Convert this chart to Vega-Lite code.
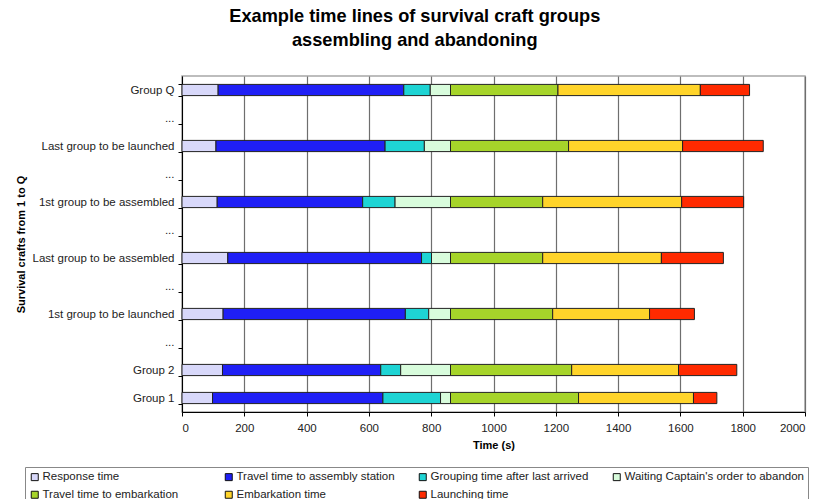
{
  "$schema": "https://vega.github.io/schema/vega-lite/v6.json",
  "autosize": {"type": "none"},
  "width": 623,
  "height": 336,
  "padding": {"left": 182, "top": 76, "right": 16, "bottom": 87},
  "background": "white",
  "title": {
    "text": ["Example time lines of survival craft groups", "assembling and abandoning"],
    "font": "Liberation Sans",
    "fontSize": 18.2,
    "fontWeight": "bold",
    "color": "black",
    "lineHeight": 24,
    "anchor": "middle",
    "frame": "bounds",
    "offset": 20,
    "dx": 3
  },
  "data": {
    "values": [
      {"g": "Group Q", "p": "Response time", "s": 0, "e": 116},
      {"g": "Group Q", "p": "Travel time to assembly station", "s": 116, "e": 712},
      {"g": "Group Q", "p": "Grouping time after last arrived", "s": 712, "e": 797},
      {"g": "Group Q", "p": "Waiting Captain's order to abandon", "s": 797, "e": 862},
      {"g": "Group Q", "p": "Travel time to embarkation", "s": 862, "e": 1207},
      {"g": "Group Q", "p": "Embarkation time", "s": 1207, "e": 1664},
      {"g": "Group Q", "p": "Launching time", "s": 1664, "e": 1822},
      {"g": "Last group to be launched", "p": "Response time", "s": 0, "e": 109},
      {"g": "Last group to be launched", "p": "Travel time to assembly station", "s": 109, "e": 652},
      {"g": "Last group to be launched", "p": "Grouping time after last arrived", "s": 652, "e": 778},
      {"g": "Last group to be launched", "p": "Waiting Captain's order to abandon", "s": 778, "e": 862},
      {"g": "Last group to be launched", "p": "Travel time to embarkation", "s": 862, "e": 1241},
      {"g": "Last group to be launched", "p": "Embarkation time", "s": 1241, "e": 1607},
      {"g": "Last group to be launched", "p": "Launching time", "s": 1607, "e": 1866},
      {"g": "1st group to be assembled", "p": "Response time", "s": 0, "e": 113},
      {"g": "1st group to be assembled", "p": "Travel time to assembly station", "s": 113, "e": 580},
      {"g": "1st group to be assembled", "p": "Grouping time after last arrived", "s": 580, "e": 684},
      {"g": "1st group to be assembled", "p": "Waiting Captain's order to abandon", "s": 684, "e": 862},
      {"g": "1st group to be assembled", "p": "Travel time to embarkation", "s": 862, "e": 1158},
      {"g": "1st group to be assembled", "p": "Embarkation time", "s": 1158, "e": 1604},
      {"g": "1st group to be assembled", "p": "Launching time", "s": 1604, "e": 1803},
      {"g": "Last group to be assembled", "p": "Response time", "s": 0, "e": 147},
      {"g": "Last group to be assembled", "p": "Travel time to assembly station", "s": 147, "e": 769},
      {"g": "Last group to be assembled", "p": "Grouping time after last arrived", "s": 769, "e": 801},
      {"g": "Last group to be assembled", "p": "Waiting Captain's order to abandon", "s": 801, "e": 862},
      {"g": "Last group to be assembled", "p": "Travel time to embarkation", "s": 862, "e": 1158},
      {"g": "Last group to be assembled", "p": "Embarkation time", "s": 1158, "e": 1539},
      {"g": "Last group to be assembled", "p": "Launching time", "s": 1539, "e": 1738},
      {"g": "1st group to be launched", "p": "Response time", "s": 0, "e": 132},
      {"g": "1st group to be launched", "p": "Travel time to assembly station", "s": 132, "e": 717},
      {"g": "1st group to be launched", "p": "Grouping time after last arrived", "s": 717, "e": 792},
      {"g": "1st group to be launched", "p": "Waiting Captain's order to abandon", "s": 792, "e": 862},
      {"g": "1st group to be launched", "p": "Travel time to embarkation", "s": 862, "e": 1190},
      {"g": "1st group to be launched", "p": "Embarkation time", "s": 1190, "e": 1501},
      {"g": "1st group to be launched", "p": "Launching time", "s": 1501, "e": 1645},
      {"g": "Group 2", "p": "Response time", "s": 0, "e": 130},
      {"g": "Group 2", "p": "Travel time to assembly station", "s": 130, "e": 638},
      {"g": "Group 2", "p": "Grouping time after last arrived", "s": 638, "e": 702},
      {"g": "Group 2", "p": "Waiting Captain's order to abandon", "s": 702, "e": 862},
      {"g": "Group 2", "p": "Travel time to embarkation", "s": 862, "e": 1251},
      {"g": "Group 2", "p": "Embarkation time", "s": 1251, "e": 1594},
      {"g": "Group 2", "p": "Launching time", "s": 1594, "e": 1781},
      {"g": "Group 1", "p": "Response time", "s": 0, "e": 98},
      {"g": "Group 1", "p": "Travel time to assembly station", "s": 98, "e": 645},
      {"g": "Group 1", "p": "Grouping time after last arrived", "s": 645, "e": 830},
      {"g": "Group 1", "p": "Waiting Captain's order to abandon", "s": 830, "e": 862},
      {"g": "Group 1", "p": "Travel time to embarkation", "s": 862, "e": 1273},
      {"g": "Group 1", "p": "Embarkation time", "s": 1273, "e": 1642},
      {"g": "Group 1", "p": "Launching time", "s": 1642, "e": 1717}
    ]
  },
  "mark": {"type": "bar", "stroke": "#222", "strokeWidth": 1, "cornerRadius": 0},
  "encoding": {
    "y": {
      "field": "g",
      "type": "nominal",
      "scale": {
        "domain": ["Group Q", "gap1", "Last group to be launched", "gap2", "1st group to be assembled", "gap3", "Last group to be assembled", "gap4", "1st group to be launched", "gap5", "Group 2", "Group 1"],
        "paddingInner": 0.6,
        "paddingOuter": 0.3
      },
      "axis": {
        "title": "Survival crafts from 1 to Q",
        "labelExpr": "indexof(datum.label, 'gap') == 0 ? '...' : datum.label",
        "tickBand": "extent",
        "grid": false,
        "tickSize": 4,
        "labelPadding": 4,
        "titlePadding": 6
      }
    },
    "x": {
      "field": "s",
      "type": "quantitative",
      "scale": {"domain": [0, 2000], "nice": false},
      "axis": {
        "title": "Time (s)",
        "format": "d",
        "values": [0, 200, 400, 600, 800, 1000, 1200, 1400, 1600, 1800, 2000],
        "grid": true,
        "tickSize": 4,
        "labelPadding": 6,
        "titlePadding": 6
      }
    },
    "x2": {"field": "e"},
    "color": {
      "field": "p",
      "type": "nominal",
      "scale": {
        "domain": ["Response time", "Travel time to assembly station", "Grouping time after last arrived", "Waiting Captain's order to abandon", "Travel time to embarkation", "Embarkation time", "Launching time"],
        "range": ["#D8D8FA", "#1F1FF5", "#1ED4D4", "#D8FCDC", "#A6D42A", "#FFD42A", "#FF2A00"]
      },
      "legend": {
        "title": null,
        "orient": "none",
        "legendX": -157,
        "legendY": 391,
        "direction": "horizontal",
        "columns": 4,
        "gridAlign": "all",
        "columnPadding": 1,
        "rowPadding": 5,
        "symbolType": "square",
        "symbolSize": 49,
        "symbolStrokeColor": "#111",
        "symbolStrokeWidth": 1,
        "symbolOpacity": 1,
        "labelFontSize": 11.5,
        "labelLimit": 300,
        "labelOffset": 2,
        "strokeColor": "#888",
        "padding": 4,
        "fillColor": "white"
      }
    }
  },
  "config": {
    "font": "Liberation Sans",
    "view": {"stroke": "#a8a8a8", "strokeWidth": 1.5},
    "axis": {
      "labelFont": "Liberation Sans",
      "labelFontSize": 11.5,
      "labelColor": "#222",
      "titleFont": "Liberation Sans",
      "titleFontSize": 11,
      "titleFontWeight": "bold",
      "titleColor": "black",
      "domainColor": "black",
      "domainWidth": 1,
      "tickColor": "black",
      "gridColor": "#6e6e6e",
      "gridWidth": 1.2,
      "gridOpacity": 1
    },
    "legend": {"labelFont": "Liberation Sans", "labelColor": "#222"}
  }
}
